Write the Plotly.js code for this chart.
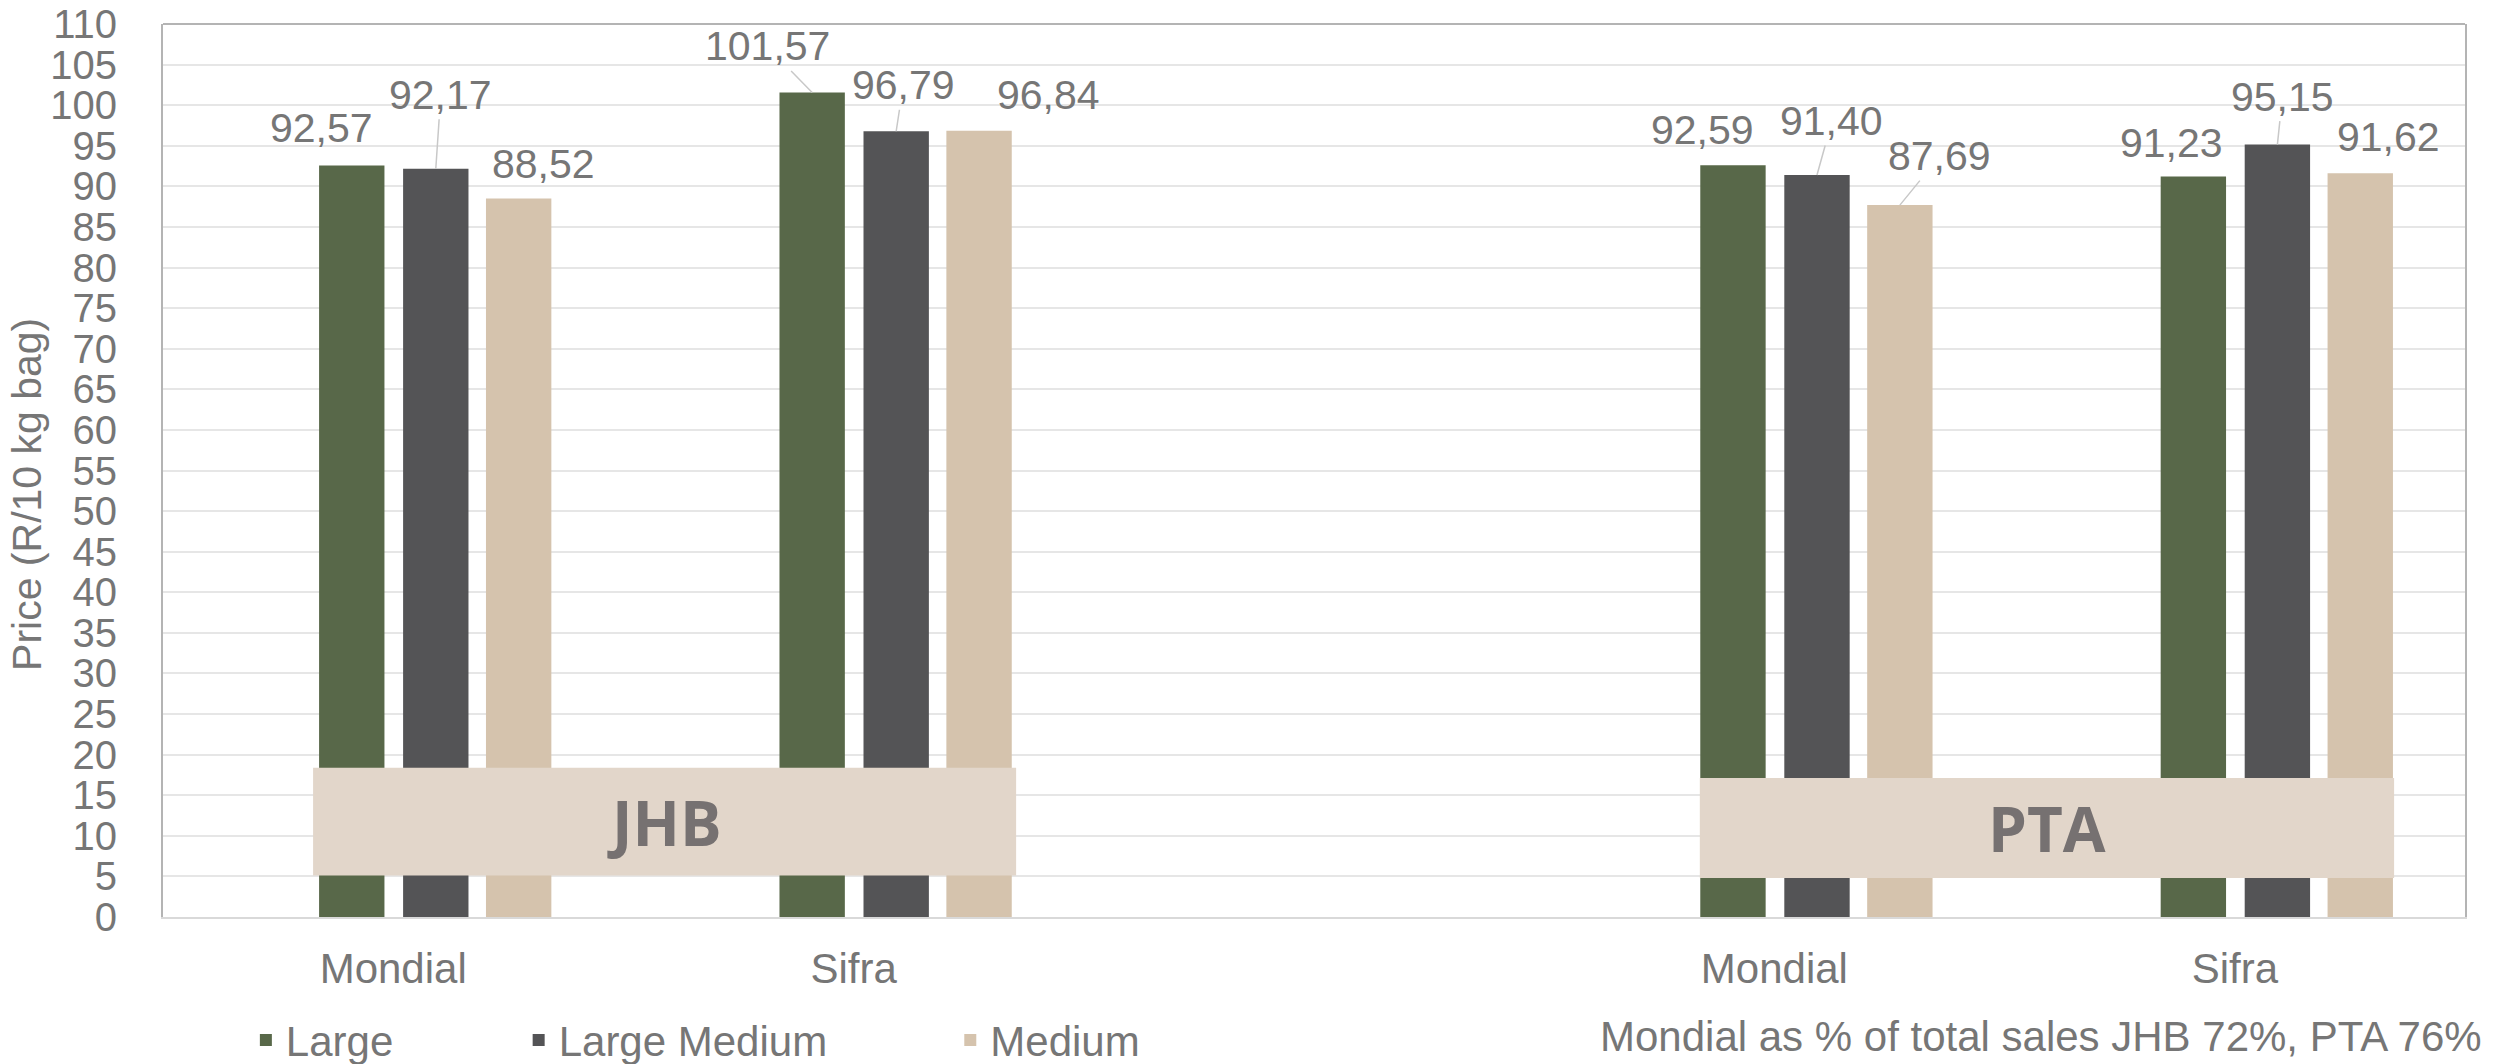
<!DOCTYPE html>
<html>
<head>
<meta charset="utf-8">
<script src="https://cdn.plot.ly/plotly-3.0.1.min.js"></script>
<style>html,body{margin:0;padding:0;background:#fff}#chart{width:2501px;height:1064px}</style>
</head>
<body>
<div id="chart"></div>
<script>
// ---- data ----
const categoryLabels = ["Mondial", "Sifra", "", "Mondial", "Sifra"];
const categoryPos = [0, 1, 3, 4];
const seriesNames = ["Large", "Large Medium", "Medium"];
const large = [92.57, 101.57, 92.59, 91.23];
const largeMedium = [92.17, 96.79, 91.40, 95.15];
const medium = [88.52, 96.84, 87.69, 91.62];
const regionLabels = ["JHB", "PTA"];
const noteText = "Mondial as % of total sales JHB 72%, PTA 76%";
const yTitle = "Price (R/10 kg bag)";

// ---- style ----
const colors = ["#586849", "#545456", "#d5c3ad"];
const barOffsets = [-0.161, 0.0215, 0.2015];
const barWidth = 0.142;
const txt = "#767676";
const fam = "Liberation Sans, Arial, sans-serif";
// label offsets (px) relative to bar top centre: [ax, ay, leader line shown]
const lab = [
  [[-30,-38,false],[-45,-46,true],[-30,-35,false],[-22,-33,false]],
  [[5,-74,true],[7,-46,true],[15,-54,true],[5,-48,true]],
  [[25,-34,false],[69,-36,false],[40,-49,true],[28,-36,false]]
];

const allSeries = [large, largeMedium, medium];
const legendIds = ["legend", "legend2", "legend3"];
const traces = allSeries.map((vals, k) => ({
  type: "bar",
  name: seriesNames[k],
  x: categoryPos,
  y: vals,
  offset: barOffsets[k],
  width: barWidth,
  marker: {color: colors[k], line: {width: 0}},
  legend: legendIds[k],
  hoverinfo: "y+name"
}));

const fmt = v => v.toFixed(2).replace(".", ",");
const annotations = [];
allSeries.forEach((vals, k) => {
  vals.forEach((v, i) => {
    const L = lab[k][i];
    annotations.push({
      x: categoryPos[i] + barOffsets[k] + barWidth / 2,
      y: v, xref: "x", yref: "y",
      text: fmt(v), showarrow: true, arrowhead: 0, arrowwidth: 1.5,
      arrowcolor: L[2] ? "#c8c8c8" : "rgba(0,0,0,0)",
      standoff: 0, startstandoff: 0,
      ax: L[0], ay: L[1],
      font: {family: fam, size: 41, color: txt}
    });
  });
});

// region boxes
const boxes = [
  {x0: -0.174, x1: 1.353, y0: 5.11, y1: 18.40},
  {x0: 2.838, x1: 4.346, y0: 4.80, y1: 17.12}
];
const shapes = boxes.map(b => ({
  type: "rect", xref: "x", yref: "y", x0: b.x0, x1: b.x1, y0: b.y0, y1: b.y1,
  fillcolor: "#e2d6ca", line: {width: 0}, layer: "above"
}));
shapes.push({type: "line", xref: "paper", yref: "paper", x0: 0, x1: 1, y0: 1, y1: 1,
  line: {color: "#b4b4b4", width: 2}});
boxes.forEach((b, i) => annotations.push({
  x: (b.x0 + b.x1) / 2, y: (b.y0 + b.y1) / 2, xref: "x", yref: "y",
  xanchor: "center", yanchor: "middle",
  text: "<b>" + regionLabels[i] + "</b>", showarrow: false,
  font: {family: "Open Sans, sans-serif", size: 62, color: "#767171"}
}));

annotations.push({
  x: -0.0591, y: 0.4737, xref: "paper", yref: "paper", text: yTitle,
  xanchor: "center", yanchor: "middle",
  textangle: -90, showarrow: false, font: {family: fam, size: 41, color: txt}
});
annotations.push({
  x: 0.8158, y: -0.1333, xref: "paper", yref: "paper", text: noteText,
  xanchor: "center", yanchor: "middle",
  showarrow: false, font: {family: fam, size: 42, color: txt}
});

const legendBase = {orientation: "h", yanchor: "middle", y: -0.138, xanchor: "left",
  bgcolor: "rgba(0,0,0,0)", font: {family: fam, size: 42, color: txt}};
const layout = {
  width: 2501, height: 1064,
  margin: {l: 163, r: 36, t: 24, b: 147, autoexpand: false},
  paper_bgcolor: "#fff", plot_bgcolor: "#fff",
  barmode: "overlay",
  xaxis: {
    range: [-0.5, 4.5], tickvals: [0, 1, 3, 4],
    ticktext: categoryPos.map(p => categoryLabels[p]),
    showgrid: false, zeroline: false, showline: true, linecolor: "#d9d9d9", linewidth: 2,
    ticks: "", ticklabelstandoff: 14, automargin: false,
    tickfont: {family: fam, size: 42, color: txt}, fixedrange: true
  },
  yaxis: {
    range: [0, 110], dtick: 5, tick0: 0,
    showgrid: true, gridcolor: "#e6e6e6", gridwidth: 2,
    zeroline: false, showline: true, mirror: true, linecolor: "#b4b4b4", linewidth: 2,
    ticks: "", ticklabelstandoff: 36, automargin: false,
    tickfont: {family: fam, size: 40, color: txt}, fixedrange: true
  },
  legend: Object.assign({}, legendBase, {x: 0.036}),
  legend2: Object.assign({}, legendBase, {x: 0.1545}),
  legend3: Object.assign({}, legendBase, {x: 0.342}),
  shapes: shapes,
  annotations: annotations,
  showlegend: true
};

Plotly.newPlot("chart", traces, layout, {displayModeBar: false, staticPlot: true});
</script>
</body>
</html>
